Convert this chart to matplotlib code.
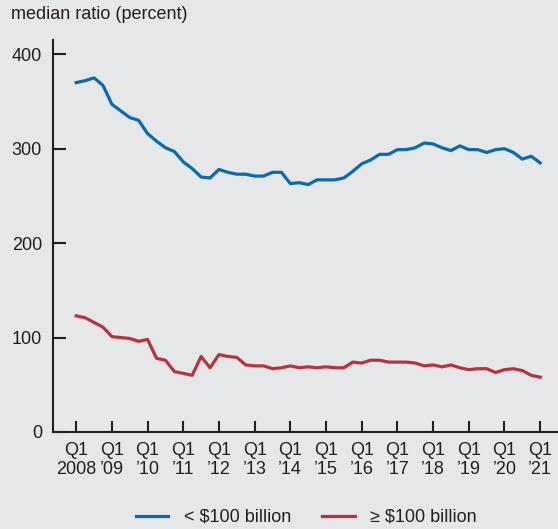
import matplotlib
matplotlib.use("Agg")
import matplotlib.pyplot as plt

# quarterly medians, Q1 2008 .. Q1 2021
small_banks = [370, 372, 375, 367,
               347, 340, 333, 330,
               316, 308, 301, 297,
               286, 279, 270, 269,
               278, 275, 273, 273,
               271, 271, 275, 275,
               263, 264, 262, 267,
               267, 267, 269, 276,
               284, 288, 294, 294,
               299, 299, 301, 306,
               305, 301, 298, 303,
               299, 299, 296, 299,
               300, 296, 289, 292,
               285]
large_banks = [123, 121, 116, 111,
               101, 100, 99, 96,
               98, 78, 76, 64,
               62, 60, 80, 68,
               82, 80, 79, 71,
               70, 70, 67, 68,
               70, 68, 69, 68,
               69, 68, 68, 74,
               73, 76, 76, 74,
               74, 74, 73, 70,
               71, 69, 71, 68,
               66, 67, 67, 63,
               66, 67, 65, 60,
               58]
year_labels = ["2008", "\u201909", "\u201910", "\u201911", "\u201912", "\u201913", "\u201914",
               "\u201915", "\u201916", "\u201917", "\u201918", "\u201919", "\u201920", "\u201921"]
series_names = ["< $100 billion", "\u2265 $100 billion"]

BG = "#e6e7e8"
INK = "#231f20"
BLUE = "#0b6aab"
RED = "#b7323c"

plt.rcParams["font.family"] = ["Liberation Sans", "DejaVu Sans"]
plt.rcParams["font.size"] = 13
plt.rcParams["text.color"] = INK

fig = plt.figure(figsize=(5.58, 5.29), dpi=100, facecolor=BG)
ax = fig.add_axes([0.095, 0.1834, 0.905, 0.7408])
ax.set_facecolor(BG)

x = list(range(len(small_banks)))
ax.plot(x, small_banks, color=BLUE, lw=2.3, solid_joinstyle="round", label=series_names[0])
ax.plot(x, large_banks, color=RED, lw=2.3, solid_joinstyle="round", label=series_names[1])

ax.set_xlim(-2.6, 54)
ax.set_ylim(0, 415)
ax.set_yticks([0, 100, 200, 300, 400])
ax.set_xticks([4 * i for i in range(len(year_labels))])
ax.set_xticklabels(["Q1\n" + y for y in year_labels], linespacing=1.2)

for side in ["top", "right"]:
    ax.spines[side].set_visible(False)
for side in ["left", "bottom"]:
    ax.spines[side].set_color(INK)
    ax.spines[side].set_linewidth(1.5)

ax.tick_params(axis="both", direction="in", color=INK, labelcolor=INK, width=1.5)
ax.tick_params(axis="x", length=8, pad=7)
ax.tick_params(axis="y", length=9, pad=8)

fig.text(0.02, 0.988, "median ratio (percent)", ha="left", va="top")

fig.legend(loc="center", bbox_to_anchor=(0.549, 0.022), ncol=2, frameon=False,
           handlelength=1.8, handletextpad=0.85, columnspacing=1.75)

fig.savefig("out.png", dpi=100, facecolor=BG)
